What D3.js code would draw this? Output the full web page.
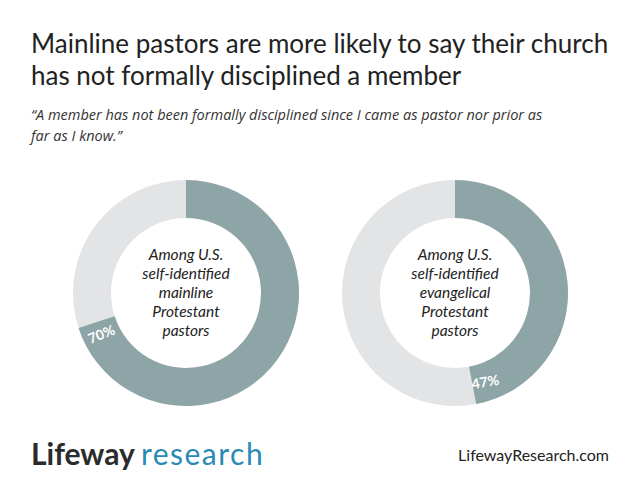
<!DOCTYPE html>
<html>
<head>
<meta charset="utf-8">
<script src="https://cdn.jsdelivr.net/npm/d3@7"></script>
<style>
  body { margin: 0; background: #fff; }
  text { font-family: "Lato", "Open Sans", sans-serif; }
</style>
</head>
<body>
<script>
// Chart data
const groups = ["mainline", "evangelical"];
const shares = [70, 47];
const centerLabels = [
    ["Among U.S.", "self-identified", "mainline", "Protestant", "pastors"],
    ["Among U.S.", "self-identified", "evangelical", "Protestant", "pastors"]
];

const width = 642;
const height = 502;
const svg = d3.select('body').append('svg')
    .attr('width', width)
    .attr('height', height);

// Title and quote
const title = ["Mainline pastors are more likely to say their church", "has not formally disciplined a member"];
title.forEach((t, i) => {
    svg.append('text').attr('x', 31).attr('y', 53 + i * 32)
        .attr('font-size', 26).attr('fill', '#222').text(t);
});
const quote = ["\u201cA member has not been formally disciplined since I came as pastor nor prior as", "far as I know.\u201d"];
quote.forEach((t, i) => {
    svg.append('text').attr('x', 31).attr('y', 120 + i * 21)
        .attr('font-size', 14.5).attr('font-style', 'italic')
        .style('font-family', '"Open Sans", sans-serif').attr('fill', '#333').text(t);
});

// Donuts
const xPos = d3.scalePoint().domain(groups).range([186, 455]);
const arc = d3.arc().innerRadius(75).outerRadius(113);
const angle = d3.scaleLinear().domain([0, 100]).range([0, 2 * Math.PI]);
const tilt = [-22, -10];

groups.forEach((g, i) => {
    const gg = svg.append('g').attr('transform', `translate(${xPos(g)},293)`);
    gg.append('path').attr('d', arc({ startAngle: 0, endAngle: 2 * Math.PI })).attr('fill', '#e3e4e6');
    gg.append('path').attr('d', arc({ startAngle: 0, endAngle: angle(shares[i]) })).attr('fill', '#8ea5a7');

    const a = angle(shares[i]) - 0.14;
    const r = 94;
    gg.append('text')
        .attr('transform', `translate(${Math.sin(a) * r},${-Math.cos(a) * r}) rotate(${tilt[i]})`)
        .attr('text-anchor', 'middle').attr('dy', '0.35em')
        .attr('font-size', 14).attr('font-weight', 'bold').attr('fill', '#fff')
        .text(shares[i] + '%');

    centerLabels[i].forEach((t, j) => {
        gg.append('text').attr('y', (j - 2) * 19 + 5)
            .attr('text-anchor', 'middle').attr('font-size', 15.5)
            .attr('font-style', 'italic').attr('fill', '#222').text(t);
    });
});

// Footer
const logo = svg.append('text').attr('x', 31).attr('y', 465).attr('font-size', 30);
logo.append('tspan').attr('font-weight', 'bold').attr('fill', '#2b2b2b').text('Lifeway');
logo.append('tspan').attr('dx', 6).attr('fill', '#2a8ab5').attr('letter-spacing', 1.5).text('research');
svg.append('text').attr('x', 609).attr('y', 461).attr('text-anchor', 'end')
    .attr('font-size', 16).attr('fill', '#222').text('LifewayResearch.com');
</script>
</body>
</html>
